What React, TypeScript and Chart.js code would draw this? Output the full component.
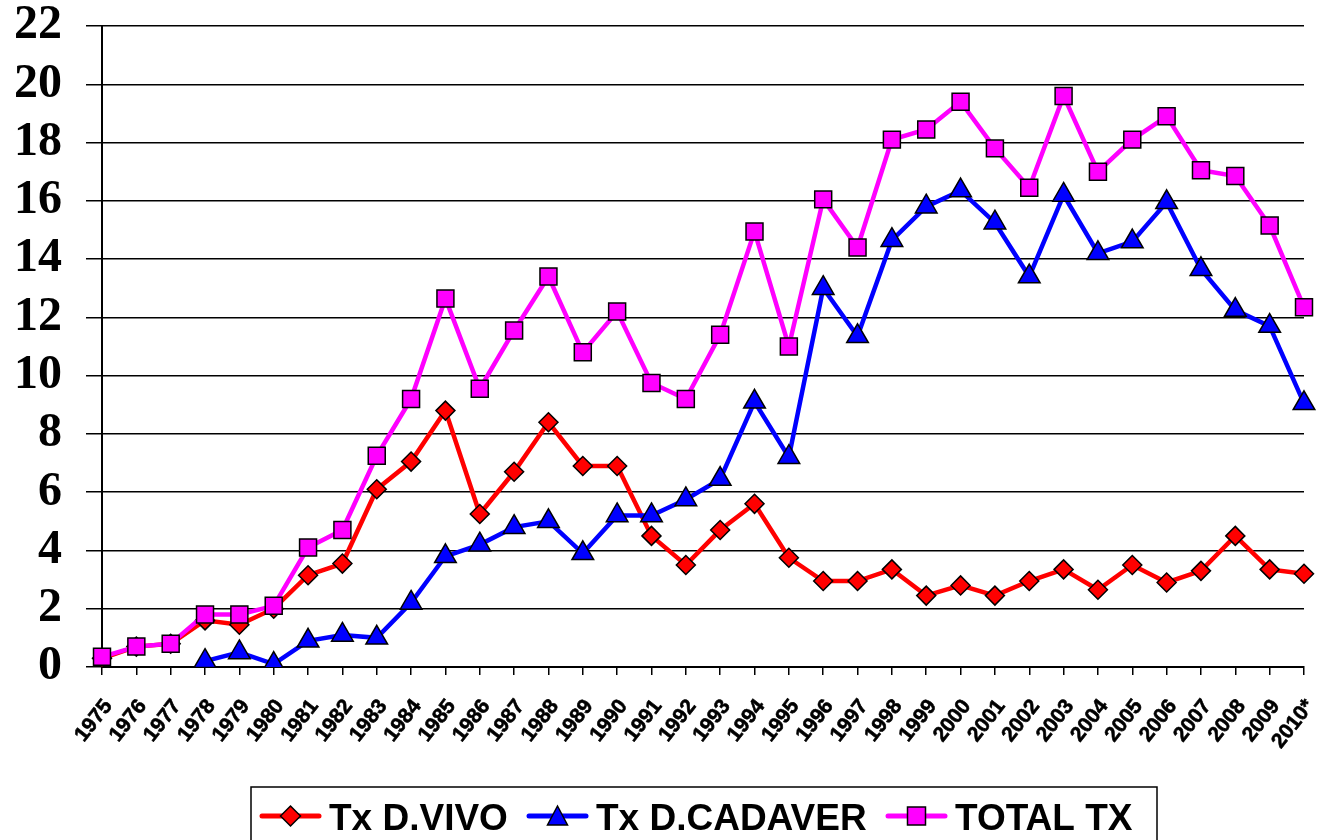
import React, { useEffect, useRef } from 'react';
import { Chart, registerables } from 'chart.js';

Chart.register(...registerables);

const years = [
  '1975', '1976', '1977', '1978', '1979', '1980', '1981', '1982', '1983', '1984',
  '1985', '1986', '1987', '1988', '1989', '1990', '1991', '1992', '1993', '1994',
  '1995', '1996', '1997', '1998', '1999', '2000', '2001', '2002', '2003', '2004',
  '2005', '2006', '2007', '2008', '2009', '2010*',
];

const vivo = [
  0.3, 0.7, 0.8, 1.6, 1.45, 2.0, 3.15, 3.55, 6.1, 7.05,
  8.8, 5.25, 6.7, 8.4, 6.9, 6.9, 4.5, 3.5, 4.7, 5.6,
  3.75, 2.95, 2.95, 3.35, 2.45, 2.8, 2.45, 2.95, 3.35, 2.65,
  3.5, 2.9, 3.3, 4.5, 3.35, 3.2,
];

const cadaver = [
  null, null, null, 0.2, 0.5, 0.1, 0.9, 1.1, 1.0, 2.2,
  3.8, 4.2, 4.8, 5.0, 3.9, 5.2, 5.2, 5.75, 6.45, 9.1,
  7.2, 13.0, 11.35, 14.65, 15.8, 16.35, 15.25, 13.4, 16.2, 14.2,
  14.6, 15.95, 13.65, 12.25, 11.7, 9.05,
];

const total = [
  0.35, 0.7, 0.8, 1.8, 1.8, 2.1, 4.1, 4.7, 7.25, 9.2,
  12.65, 9.55, 11.55, 13.4, 10.8, 12.2, 9.75, 9.2, 11.4, 14.95,
  11.0, 16.05, 14.4, 18.1, 18.45, 19.4, 17.8, 16.45, 19.6, 17.0,
  18.1, 18.9, 17.05, 16.85, 15.15, 12.35,
];

const seriesNames = ['Tx D.VIVO', 'Tx D.CADAVER', 'TOTAL TX'];
const seriesColors = ['#FF0000', '#0000FF', '#FF00FF'];
const seriesMarkers = ['rectRot', 'triangle', 'rect'];

const yMin = 0;
const yMax = 22;
const yStep = 2;

const X_LABEL_FONT = 'bold 21px "Liberation Sans", Arial, sans-serif';
const X_LABEL_ANGLE = 52;

function drawMarker(ctx: CanvasRenderingContext2D, style: string, x: number, y: number, r: number, fill: string) {
  ctx.beginPath();
  if (style === 'rectRot') {
    ctx.moveTo(x - r, y);
    ctx.lineTo(x, y - r);
    ctx.lineTo(x + r, y);
    ctx.lineTo(x, y + r);
    ctx.closePath();
  } else if (style === 'triangle') {
    ctx.moveTo(x, y - r);
    ctx.lineTo(x + r, y + r * 0.9);
    ctx.lineTo(x - r, y + r * 0.9);
    ctx.closePath();
  } else {
    ctx.rect(x - r, y - r, 2 * r, 2 * r);
  }
  ctx.fillStyle = fill;
  ctx.fill();
  ctx.lineWidth = 1.5;
  ctx.strokeStyle = '#000';
  ctx.stroke();
}

// Category labels placed at the x scale's own tick pixels, rotated like the original.
const xLabelPlugin = {
  id: 'xLabels',
  afterDraw(chart: any) {
    const ctx: CanvasRenderingContext2D = chart.ctx;
    const xs = chart.scales.x;
    ctx.save();
    ctx.font = X_LABEL_FONT;
    ctx.fillStyle = '#000';
    ctx.strokeStyle = '#000';
    ctx.lineWidth = 0.6;
    ctx.textAlign = 'right';
    ctx.textBaseline = 'top';
    const labels: string[] = chart.data.labels;
    labels.forEach((lab, i) => {
      const px = xs.getPixelForTick(i);
      ctx.save();
      ctx.translate(px - 2, xs.top + 29);
      ctx.rotate((-X_LABEL_ANGLE * Math.PI) / 180);
      ctx.fillText(lab, 0, 0);
      ctx.strokeText(lab, 0, 0);
      ctx.restore();
    });
    ctx.restore();
  },
};

const legendPlugin = {
  id: 'boxLegend',
  afterDraw(chart: any) {
    const ctx: CanvasRenderingContext2D = chart.ctx;
    ctx.save();
    const boxLeft = 251;
    const boxTop = 787;
    const boxRight = 1157;
    ctx.strokeStyle = '#000';
    ctx.lineWidth = 1.5;
    ctx.strokeRect(boxLeft, boxTop, boxRight - boxLeft, 80);
    const cy = 816;
    const starts = [260, 527, 886];
    const markerSizes = [10, 10, 9];
    ctx.font = 'bold 37px "Liberation Sans", Arial, sans-serif';
    ctx.textBaseline = 'alphabetic';
    ctx.textAlign = 'left';
    seriesNames.forEach((name, i) => {
      const x0 = starts[i];
      ctx.beginPath();
      ctx.lineCap = 'round';
      ctx.strokeStyle = seriesColors[i];
      ctx.lineWidth = 5;
      ctx.moveTo(x0 + 2, cy);
      ctx.lineTo(x0 + 59, cy);
      ctx.stroke();
      drawMarker(ctx, seriesMarkers[i], x0 + 30.5, cy, markerSizes[i], seriesColors[i]);
      ctx.fillStyle = '#000';
      ctx.fillText(name, x0 + 69, cy + 13.5);
    });
    ctx.restore();
  },
};

export default function App() {
  const ref = useRef<HTMLCanvasElement>(null);
  useEffect(() => {
    const canvas = ref.current;
    if (!canvas) return;
    const mk = (i: number, data: (number | null)[], radius: number, order: number) => ({
      label: seriesNames[i],
      data,
      borderColor: seriesColors[i],
      backgroundColor: seriesColors[i],
      pointBackgroundColor: seriesColors[i],
      pointBorderColor: '#000',
      pointBorderWidth: 1.5,
      pointStyle: seriesMarkers[i],
      pointRadius: radius,
      pointHoverRadius: radius,
      borderWidth: 4.5,
      tension: 0,
      order,
      spanGaps: false,
    });
    const chart = new Chart(canvas, {
      type: 'line',
      data: {
        labels: years,
        datasets: [
          mk(0, vivo, 9.5, 3),
          mk(1, cadaver, 12.5, 2),
          mk(2, total, 12, 1),
        ] as any,
      },
      options: {
        animation: false,
        responsive: false,
        devicePixelRatio: 1,
        events: [],
        layout: { padding: { top: 26, right: 5, left: 0, bottom: 0 } },
        plugins: {
          legend: { display: false },
          tooltip: { enabled: false },
        },
        scales: {
          x: {
            grid: { drawOnChartArea: false, drawTicks: true, tickLength: 8, color: '#000', lineWidth: 1.5 },
            border: { display: true, color: '#000', width: 2 },
            ticks: { autoSkip: false, display: false },
            afterFit: (s: any) => {
              s.height = 173;
              s.paddingLeft = 0;
              s.paddingRight = 0;
              s.paddingTop = 0;
              s.paddingBottom = 0;
            },
          },
          y: {
            min: yMin,
            max: yMax,
            ticks: {
              stepSize: yStep,
              color: '#000',
              padding: 24,
              font: { family: '"Liberation Serif", "Times New Roman", serif', weight: 'bold', size: 48, lineHeight: 1 },
            },
            grid: { color: '#000', lineWidth: 1.5, tickLength: 16 },
            border: { color: '#000', width: 2 },
            afterFit: (s: any) => {
              s.width = 102;
              s.paddingLeft = 0;
              s.paddingRight = 0;
              s.paddingTop = 0;
              s.paddingBottom = 0;
            },
          },
        },
      } as any,
      plugins: [xLabelPlugin, legendPlugin],
    });
    return () => chart.destroy();
  }, []);
  return (
    <div style={{ position: 'fixed', left: 0, top: 0, width: 1318, height: 840, background: '#fff' }}>
      <canvas ref={ref} width={1318} height={840} style={{ display: 'block' }} />
    </div>
  );
}
